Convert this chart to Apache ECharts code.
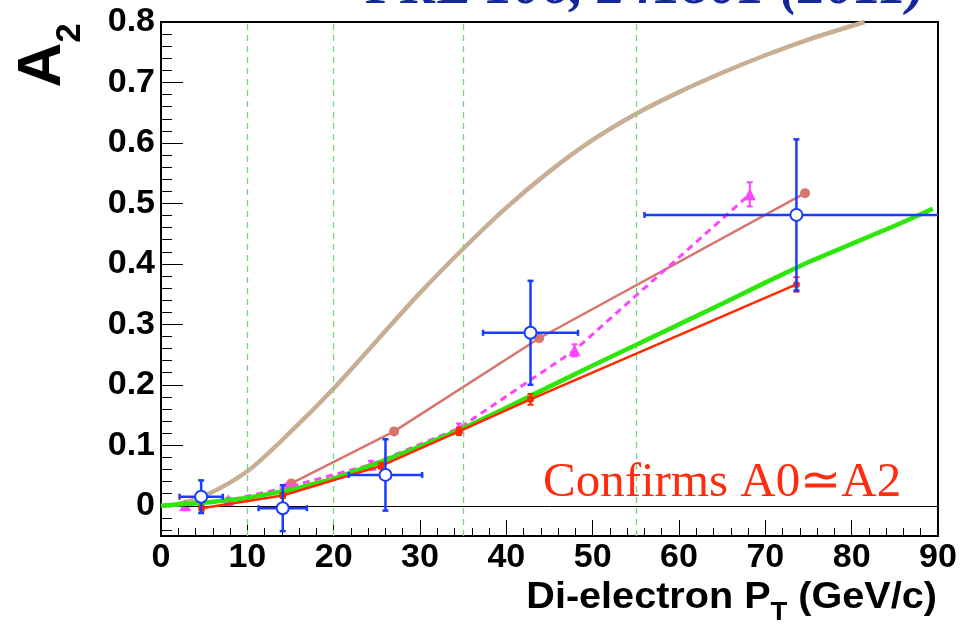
<!DOCTYPE html>
<html>
<head>
<meta charset="utf-8">
<script src="https://cdn.jsdelivr.net/npm/echarts@6/dist/echarts.min.js"></script>
<style>
  html, body { margin: 0; padding: 0; background: #ffffff; }
  #chart { width: 974px; height: 624px; }
</style>
</head>
<body>
<div id="chart"></div>
<script>
// ---- axes ----
const xMin = 0, xMax = 90, xStep = 10;
const yMin = -0.05, yMax = 0.8;
const yMajorTicks = [0, 0.1, 0.2, 0.3, 0.4, 0.5, 0.6, 0.7, 0.8];
const yMinorTicks = [];
for (let i = -2; i <= 39; i++) { if (i % 5 !== 0) yMinorTicks.push(+(i * 0.02).toFixed(2)); }

// boundaries of the pT bins (dashed guides)
const binEdges = [10, 20, 35, 55];

// ---- model curves ----
const beigeX = [0, 2, 5, 10, 15, 20, 25, 30, 35, 40, 45, 50, 55, 60, 65, 70, 75, 81.5];
const beigeY = [0, 0.003, 0.016, 0.057, 0.122, 0.194, 0.273, 0.352, 0.425, 0.493, 0.553, 0.605, 0.648, 0.684, 0.716, 0.745, 0.771, 0.8];

const roseX = [15.1, 27.0, 43.8, 74.6];
const roseY = [0.037, 0.123, 0.277, 0.517];

const magX   = [2.8, 7.8, 14.5, 24.3, 34.5, 47.9, 68.2];
const magY   = [0.001, 0.009, 0.030, 0.068, 0.128, 0.257, 0.515];
const magErr = [0.004, 0.004, 0.005, 0.006, 0.008, 0.010, 0.020];

const greenX = [0, 5, 10, 15, 20, 25, 30, 35, 40, 45, 50, 55, 60, 65, 70, 75, 80, 85, 89.4];
const greenY = [0, 0.005, 0.013, 0.026, 0.045, 0.070, 0.098, 0.128, 0.162, 0.197, 0.232, 0.266, 0.300, 0.334, 0.369, 0.403, 0.433, 0.463, 0.491];

const redX   = [4.7, 14.1, 25.5, 34.5, 42.8, 73.6];
const redY   = [-0.004, 0.017, 0.066, 0.123, 0.176, 0.366];
const redErr = [0.004, 0.004, 0.005, 0.006, 0.009, 0.012];

// ---- measured A2 ----
const dataX    = [4.65, 14.1, 26.0, 42.8, 73.6];
const dataY    = [0.015, -0.004, 0.051, 0.286, 0.481];
const dataXErr = [2.5, 2.8, 4.25, 5.5, 17.6];
const dataYErr = [0.027, 0.038, 0.059, 0.086, 0.125];

const C_BEIGE = '#c9ae96', C_ROSE = '#d7766f', C_MAG = '#ff44ff',
      C_GREEN = '#2de60a', C_RED = '#ff2a00', C_BLUE = '#1a3cff', C_GUIDE = '#78d478';

const zip = (xs, ys) => xs.map((x, i) => [x, ys[i]]);

// error bar renderer: vertical bar (and optional horizontal bar) with end caps
function errorBars(color, width, cap) {
  return function (params, api) {
    const x = api.value(0), y = api.value(1), ey = api.value(2), ex = api.value(3);
    const seg = (a, b) => ({ type: 'line', shape: { x1: a[0], y1: a[1], x2: b[0], y2: b[1] },
                             style: { stroke: color, lineWidth: width } });
    const kids = [];
    const lo = api.coord([x, y - ey]), hi = api.coord([x, y + ey]);
    kids.push(seg(lo, hi));
    kids.push(seg([lo[0] - cap, lo[1]], [lo[0] + cap, lo[1]]));
    kids.push(seg([hi[0] - cap, hi[1]], [hi[0] + cap, hi[1]]));
    if (ex > 0) {
      const xl = Math.max(x - ex, xMin), xr = Math.min(x + ex, xMax);
      const l = api.coord([xl, y]), r = api.coord([xr, y]);
      kids.push(seg(l, r));
      if (xl > xMin) kids.push(seg([l[0], l[1] - cap], [l[0], l[1] + cap]));
      if (xr < xMax) kids.push(seg([r[0], r[1] - cap], [r[0], r[1] + cap]));
    }
    return { type: 'group', children: kids };
  };
}

const chart = echarts.init(document.getElementById('chart'), null, { renderer: 'canvas' });

// text layout helper for the axis titles
const mctx = document.createElement('canvas').getContext('2d');
function textWidth(str, font) { mctx.font = font; return mctx.measureText(str).width; }

const SANS = '"Liberation Sans", Arial, Helvetica, sans-serif';
const xtFontMain = 'bold 36px ' + SANS, xtFontSub = 'bold 25px ' + SANS;
const xtStretch = 1.1;
const xtRight = 937;
const wTail = textWidth(' (GeV/c)', xtFontMain) * xtStretch;
const wSub = textWidth('T', xtFontSub) * xtStretch;

const option = {
  animation: false,
  backgroundColor: '#ffffff',
  grid: { left: 161, right: 36, top: 22, bottom: 88, show: true, borderColor: '#000', borderWidth: 2,
          backgroundColor: 'transparent', containLabel: false, outerBoundsMode: 'none' },
  xAxis: {
    type: 'value', min: xMin, max: xMax, interval: xStep,
    axisLine: { show: true, onZero: false, lineStyle: { color: '#000', width: 2 } },
    axisTick: { show: true, inside: true, length: 16, lineStyle: { color: '#000', width: 1 } },
    minorTick: { show: true, splitNumber: 5, length: 8, lineStyle: { color: '#000', width: 1 } },
    axisLabel: { color: '#000', fontSize: 34, fontWeight: 'bold', fontFamily: SANS, margin: 5 },
    splitLine: { show: false }
  },
  yAxis: [{
    type: 'value', min: yMin, max: yMax,
    axisLine: { show: true, onZero: false, lineStyle: { color: '#000', width: 2 } },
    axisTick: { show: true, inside: true, length: 22, customValues: yMajorTicks, lineStyle: { color: '#000', width: 1 } },
    axisLabel: { color: '#000', fontSize: 34, fontWeight: 'bold', fontFamily: SANS, margin: 6,
                 customValues: yMajorTicks, formatter: v => (Math.abs(v) < 1e-9 ? '0' : v.toFixed(1)) },
    splitLine: { show: false }
  }, {
    type: 'value', min: yMin, max: yMax, position: 'left',
    axisLine: { show: false, onZero: false },
    axisTick: { show: true, inside: true, length: 11, customValues: yMinorTicks, lineStyle: { color: '#000', width: 1 } },
    axisLabel: { show: false },
    splitLine: { show: false }
  }],
  series: [
    { // guides: bin boundaries and the zero line
      type: 'line', data: [], z: 1, silent: true,
      markLine: {
        symbol: 'none', silent: true, animation: false, label: { show: false },
        lineStyle: { color: C_GUIDE, type: [6, 5], width: 1.3 },
        emphasis: { disabled: true },
        data: binEdges.map(v => ({ xAxis: v, lineStyle: { color: C_GUIDE, type: [6, 5], width: 1.3, opacity: 1 } }))
          .concat([{ yAxis: 0, lineStyle: { color: '#000', type: 'solid', width: 1 } }])
      }
    },
    { type: 'line', data: zip(beigeX, beigeY), smooth: 0.3, showSymbol: false, z: 2,
      lineStyle: { color: C_BEIGE, width: 4.5 } },
    { type: 'line', data: zip(roseX, roseY), symbol: 'circle', symbolSize: 10, z: 3,
      itemStyle: { color: C_ROSE }, lineStyle: { color: C_ROSE, width: 2.5 } },
    { type: 'custom', z: 4, renderItem: errorBars(C_MAG, 2, 3),
      data: magX.map((x, i) => [x, magY[i], magErr[i], 0]) },
    { type: 'line', data: zip(magX, magY), symbol: 'triangle', symbolSize: 12, z: 4,
      itemStyle: { color: C_MAG }, lineStyle: { color: C_MAG, width: 3, type: [7, 5] } },
    { type: 'line', data: zip(greenX, greenY), smooth: false, showSymbol: false, z: 5,
      lineStyle: { color: C_GREEN, width: 4.5, join: 'round' } },
    { type: 'custom', z: 6, renderItem: errorBars(C_RED, 2, 3),
      data: redX.map((x, i) => [x, redY[i], redErr[i], 0]) },
    { type: 'line', data: zip(redX, redY), symbol: 'circle', symbolSize: 7, z: 6,
      itemStyle: { color: C_RED }, lineStyle: { color: C_RED, width: 2.5 } },
    { type: 'custom', z: 7, renderItem: errorBars(C_BLUE, 2.5, 3),
      data: dataX.map((x, i) => [x, dataY[i], dataYErr[i], dataXErr[i]]) },
    { type: 'scatter', data: zip(dataX, dataY), symbol: 'circle', symbolSize: 12, z: 8,
      itemStyle: { color: '#ffffff', borderColor: C_BLUE, borderWidth: 2, opacity: 1 } }
  ],
  graphic: [
    { type: 'text', x: 926, y: -11, z: 20,
      style: { text: 'PRL 106, 241801 (2011)', font: 'italic bold 56px "Liberation Serif", "Times New Roman", serif',
               fill: '#14289c', align: 'right', verticalAlign: 'middle' } },
    { type: 'text', x: 543, y: 483, z: 20,
      style: { text: 'Confirms A0\u2243A2', font: '49px "Liberation Serif", "Times New Roman", serif',
               fill: '#ff2d10', align: 'left', verticalAlign: 'middle' } },
    // y-axis title A_2
    { type: 'text', x: 43, y: 65, rotation: Math.PI / 2, z: 20,
      style: { text: 'A', font: 'bold 62px ' + SANS, fill: '#000', align: 'center', verticalAlign: 'middle' } },
    { type: 'text', x: 70, y: 33, rotation: Math.PI / 2, z: 20,
      style: { text: '2', font: 'bold 35px ' + SANS, fill: '#000', align: 'center', verticalAlign: 'middle' } },
    // x-axis title: Di-electron P_T (GeV/c)
    { type: 'text', x: xtRight, y: 598, scaleX: xtStretch, z: 20,
      style: { text: ' (GeV/c)', font: xtFontMain, fill: '#000', align: 'right', verticalAlign: 'middle' } },
    { type: 'text', x: xtRight - wTail, y: 613, scaleX: xtStretch, z: 20,
      style: { text: 'T', font: xtFontSub, fill: '#000', align: 'right', verticalAlign: 'middle' } },
    { type: 'text', x: xtRight - wTail - wSub, y: 598, scaleX: xtStretch, z: 20,
      style: { text: 'Di-electron P', font: xtFontMain, fill: '#000', align: 'right', verticalAlign: 'middle' } }
  ]
};

chart.setOption(option);
</script>
</body>
</html>
